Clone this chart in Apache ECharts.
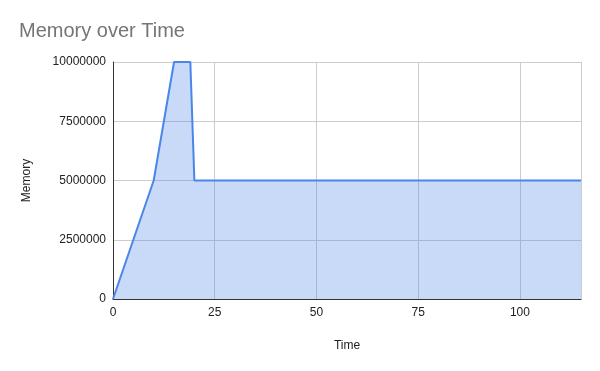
<!DOCTYPE html>
<html><head><meta charset="utf-8">
<script src="https://cdn.jsdelivr.net/npm/echarts@6/dist/echarts.min.js"></script>
<style>html,body{margin:0;padding:0;background:#fff}#c{width:600px;height:371px}</style>
</head><body><div id="c"></div>
<script>
var times = [0, 10, 15, 19, 20, 115];
var memory = [0, 5000000, 10000000, 10000000, 5000000, 5000000];
var xTicks = [0, 25, 50, 75, 100];
var yTicks = [0, 2500000, 5000000, 7500000, 10000000];

var chart = echarts.init(document.getElementById('c'), null, {renderer: 'canvas'});
var font = 'Liberation Sans, Arial, sans-serif';
chart.setOption({
  animation: false,
  title: {text: 'Memory over Time', left: 14, top: 16,
    textStyle: {fontFamily: font, fontSize: 20, fontWeight: 'normal', color: '#757575'}},
  grid: {left: 113, right: 19, top: 62, bottom: 72},
  xAxis: {type: 'value', min: 0, max: 115, interval: 25,
    name: 'Time', nameLocation: 'middle', nameGap: 41,
    nameTextStyle: {fontFamily: font, fontSize: 12, color: '#222'},
    axisLine: {show: true, lineStyle: {color: '#333', width: 1}},
    axisTick: {show: false},
    axisLabel: {fontFamily: font, fontSize: 12, color: '#222', margin: 8, showMaxLabel: false,
      formatter: function(v){ return xTicks.indexOf(v) >= 0 ? String(v) : ''; }},
    splitLine: {show: true, lineStyle: {color: '#cccccc'}}},
  yAxis: {type: 'value', min: 0, max: 10000000, interval: 2500000,
    name: 'Memory', nameLocation: 'middle', nameGap: 80, nameRotate: 90,
    nameTextStyle: {fontFamily: font, fontSize: 12, color: '#222'},
    axisLine: {show: true, lineStyle: {color: '#333', width: 1}},
    axisTick: {show: false},
    axisLabel: {fontFamily: font, fontSize: 12, color: '#222', margin: 7,
      formatter: function(v){ return yTicks.indexOf(v) >= 0 ? String(v) : ''; }},
    splitLine: {show: true, lineStyle: {color: '#cccccc'}}},
  series: [{type: 'line', data: times.map(function(t, i){ return [t, memory[i]]; }),
    symbol: 'none', lineStyle: {color: '#4a86e8', width: 2},
    areaStyle: {color: '#4a86e8', opacity: 0.3}}]
});
</script></body></html>
